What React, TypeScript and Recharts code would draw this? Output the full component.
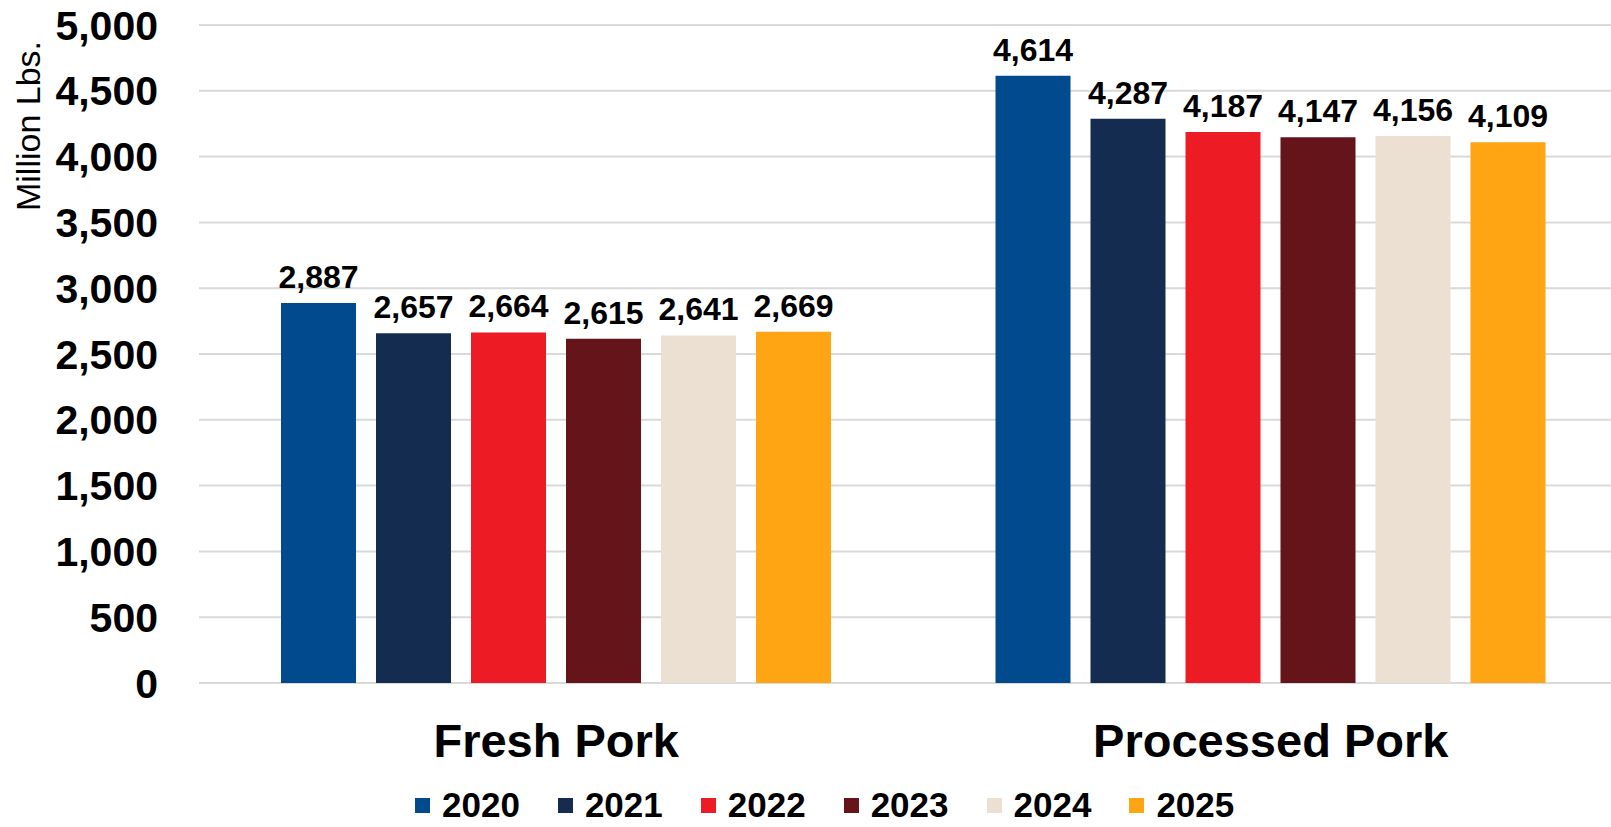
import { BarChart, Bar, XAxis, YAxis, CartesianGrid, Legend, LabelList } from 'recharts';

const categories = ['Fresh Pork', 'Processed Pork'];
const years = ['2020', '2021', '2022', '2023', '2024', '2025'];
const freshPork = [2887, 2657, 2664, 2615, 2641, 2669];
const processedPork = [4614, 4287, 4187, 4147, 4156, 4109];
const yTicks = [0, 500, 1000, 1500, 2000, 2500, 3000, 3500, 4000, 4500, 5000];
const colors = ['#024A8E', '#132C50', '#ED1C24', '#65141A', '#EBE0D1', '#FFA412'];

const seriesByCategory = [freshPork, processedPork];
const data = categories.map((name, ci) => {
	const row: Record<string, string | number> = { name };
	years.forEach((y, yi) => {
		row[y] = seriesByCategory[ci][yi];
	});
	return row;
});

const font = '"Liberation Sans", Arial, sans-serif';
const fmt = (v: number) => v.toLocaleString('en-US');

function AxisTitle() {
	return (
		<text
			x={28}
			y={126}
			transform='rotate(-90, 28, 126)'
			textAnchor='middle'
			dominantBaseline='central'
			fontFamily={font}
			fontSize={34}
			fill='#000'
		>
			Million Lbs.
		</text>
	);
}

function LegendContent() {
	return (
		<div style={{ display: 'flex', alignItems: 'center', fontFamily: font, height: 28 }}>
			{years.map((y, i) => (
				<div key={y} style={{ display: 'flex', alignItems: 'center', height: 28, marginRight: i < years.length - 1 ? 38 : 0 }}>
					<span style={{ width: 15, height: 15, background: colors[i], marginRight: 12, display: 'inline-block' }} />
					<span style={{ fontSize: 35, fontWeight: 'bold', lineHeight: '28px', height: 28, color: '#000' }}>{y}</span>
				</div>
			))}
		</div>
	);
}

export default function App() {
	return (
		<div style={{ position: 'absolute', left: 0, top: 0, width: 1611, height: 827, overflow: 'hidden', background: '#fff' }}>
			<BarChart
				width={1640}
				height={827}
				data={data}
				margin={{ top: 25, right: 12, bottom: 0, left: 0 }}
				barSize={75}
				barGap={20}
			>
				<CartesianGrid vertical={false} stroke='#D9D9D9' strokeWidth={2} />
				<XAxis
					dataKey='name'
					height={144}
					axisLine={false}
					tickLine={false}
					tickSize={0}
					tickMargin={41}
					tick={{ fontFamily: font, fontSize: 47, fontWeight: 'bold', fill: '#000' }}
				/>
				<YAxis
					width={199}
					domain={[0, 5000]}
					ticks={yTicks}
					axisLine={false}
					tickLine={false}
					tickSize={0}
					tickMargin={41}
					tickFormatter={(v) => fmt(v)}
					tick={{ fontFamily: font, fontSize: 41, fontWeight: 'bold', fill: '#000' }}
					label={<AxisTitle />}
				/>
				<Legend
					layout='horizontal'
					verticalAlign='middle'
					align='center'
					content={<LegendContent />}
					wrapperStyle={{ top: 791, left: 415, width: 'auto', height: 28, overflow: 'visible' }}
				/>
				{years.map((y, i) => (
					<Bar key={y} dataKey={y} fill={colors[i]} isAnimationActive={false}>
						<LabelList
							dataKey={y}
							position='top'
							offset={15}
							formatter={(v: number) => fmt(v)}
							style={{ fontFamily: font, fontSize: 32, fontWeight: 'bold', fill: '#000' }}
						/>
					</Bar>
				))}
			</BarChart>
		</div>
	);
}
